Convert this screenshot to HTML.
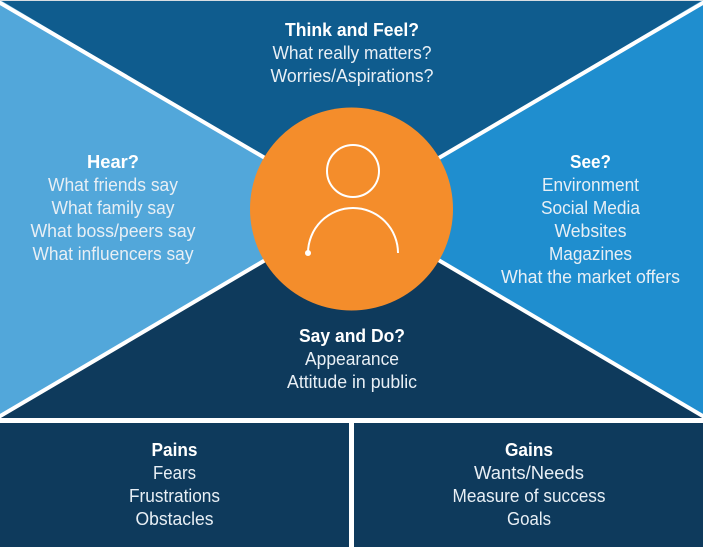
<!DOCTYPE html>
<html>
<head>
<meta charset="utf-8">
<style>
html,body{margin:0;padding:0;background:#fff}
svg{display:block}
text{font-family:"Liberation Sans",sans-serif;font-size:18px;fill:#fff;text-anchor:middle}
.b{font-weight:bold}
.l{fill:#e8eff5}
</style>
</head>
<body>
<svg width="703" height="547" viewBox="0 0 703 547" xmlns="http://www.w3.org/2000/svg">
<rect width="703" height="547" fill="#fff"/>
<polygon points="0,0 703,0 352,209" fill="#0f5c8e"/>
<polygon points="0,0 352,209 0,418" fill="#52a7da"/>
<polygon points="703,0 703,418 352,209" fill="#1f8ecf"/>
<polygon points="0,418 352,209 703,418" fill="#0e3a5c"/>
<line x1="-3" y1="1" x2="352" y2="209" stroke="#fff" stroke-width="4"/>
<line x1="706" y1="1" x2="352" y2="209" stroke="#fff" stroke-width="4"/>
<line x1="-3" y1="418" x2="352" y2="209" stroke="#fff" stroke-width="4"/>
<line x1="706" y1="418" x2="352" y2="209" stroke="#fff" stroke-width="4"/>
<rect x="0" y="0" width="703" height="1" fill="#d8dde2"/>
<rect x="0" y="418" width="703" height="5" fill="#fff"/>
<rect x="0" y="423" width="349" height="124" fill="#0e3a5c"/>
<rect x="354" y="423" width="349" height="124" fill="#0e3a5c"/>
<circle cx="351.5" cy="209" r="101.5" fill="#f48d2b"/>
<circle cx="353" cy="171" r="26" fill="none" stroke="#fff" stroke-width="2"/>
<path d="M308 253 A45 45 0 0 1 398 253" fill="none" stroke="#fff" stroke-width="2"/>
<circle cx="308" cy="253" r="3" fill="#fff"/>

<text class="b" x="352" y="36" textLength="134" lengthAdjust="spacingAndGlyphs">Think and Feel?</text>
<text class="l" x="352" y="59" textLength="159" lengthAdjust="spacingAndGlyphs">What really matters?</text>
<text class="l" x="352" y="82" textLength="163" lengthAdjust="spacingAndGlyphs">Worries/Aspirations?</text>

<text class="b" x="113" y="168" textLength="52" lengthAdjust="spacingAndGlyphs">Hear?</text>
<text class="l" x="113" y="191" textLength="130" lengthAdjust="spacingAndGlyphs">What friends say</text>
<text class="l" x="113" y="214" textLength="123" lengthAdjust="spacingAndGlyphs">What family say</text>
<text class="l" x="113" y="237" textLength="165" lengthAdjust="spacingAndGlyphs">What boss/peers say</text>
<text class="l" x="113" y="260" textLength="161" lengthAdjust="spacingAndGlyphs">What influencers say</text>

<text class="b" x="590.5" y="168" textLength="41" lengthAdjust="spacingAndGlyphs">See?</text>
<text class="l" x="590.5" y="191" textLength="97" lengthAdjust="spacingAndGlyphs">Environment</text>
<text class="l" x="590.5" y="214" textLength="99" lengthAdjust="spacingAndGlyphs">Social Media</text>
<text class="l" x="590.5" y="237" textLength="72" lengthAdjust="spacingAndGlyphs">Websites</text>
<text class="l" x="590.5" y="260" textLength="83" lengthAdjust="spacingAndGlyphs">Magazines</text>
<text class="l" x="590.5" y="283" textLength="179" lengthAdjust="spacingAndGlyphs">What the market offers</text>

<text class="b" x="352" y="342" textLength="106" lengthAdjust="spacingAndGlyphs">Say and Do?</text>
<text class="l" x="352" y="365" textLength="94" lengthAdjust="spacingAndGlyphs">Appearance</text>
<text class="l" x="352" y="388" textLength="130" lengthAdjust="spacingAndGlyphs">Attitude in public</text>

<text class="b" x="174.5" y="456" textLength="46" lengthAdjust="spacingAndGlyphs">Pains</text>
<text class="l" x="174.5" y="479" textLength="43" lengthAdjust="spacingAndGlyphs">Fears</text>
<text class="l" x="174.5" y="502" textLength="91" lengthAdjust="spacingAndGlyphs">Frustrations</text>
<text class="l" x="174.5" y="525" textLength="78" lengthAdjust="spacingAndGlyphs">Obstacles</text>

<text class="b" x="529" y="456" textLength="48" lengthAdjust="spacingAndGlyphs">Gains</text>
<text class="l" x="529" y="479" textLength="110" lengthAdjust="spacingAndGlyphs">Wants/Needs</text>
<text class="l" x="529" y="502" textLength="153" lengthAdjust="spacingAndGlyphs">Measure of success</text>
<text class="l" x="529" y="525" textLength="44" lengthAdjust="spacingAndGlyphs">Goals</text>
</svg>
</body>
</html>
